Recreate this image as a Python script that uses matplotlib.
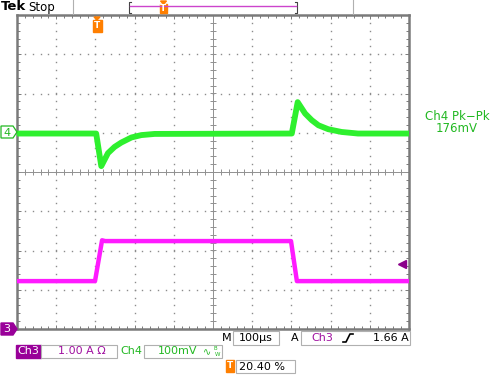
import numpy as np
import matplotlib
matplotlib.use("Agg")
import matplotlib.pyplot as plt
from matplotlib.patches import Rectangle, Polygon

# scope traces, time in us (100 us/div), amplitude in divisions
ch4_t = [0, 202, 215, 232, 249, 266, 292, 317, 351, 701, 716, 735, 752, 769, 794, 828, 870, 1000]
ch4_v = [0.98, 0.98, 0.15, 0.48, 0.64, 0.75, 0.88, 0.94, 0.97, 0.98, 1.78, 1.49, 1.32, 1.19, 1.09, 1.02, 0.98, 0.98]

ch3_t = [0, 199, 217, 225, 699, 714, 1000]
ch3_v = [-2.78, -2.78, -1.74, -1.76, -1.76, -2.78, -2.78]

trig_level = -2.34   # 1.66 A on ch3, ground at -4 div

green = '#2ef02e'
green_txt = '#22b822'
magenta = '#ff1aff'
mag_txt = '#a010a0'
orange = '#ff7f00'
gray = '#7a7a7a'

fig = plt.figure(figsize=(5, 3.75), dpi=100)

# main graticule: x 17..409 px, y 15..329 px
ax = fig.add_axes([17/500, 1-329/375, 392/500, 314/375])
ax.set_xlim(0, 1000)
ax.set_ylim(-4, 4)

# dotted grid
for k in range(1, 10):
    if k == 5:
        continue
    yy = np.arange(-4, 4.01, 0.2)
    ax.plot(np.full_like(yy, k*100), yy, ls='none', marker='s', ms=1.0, color='#8c8c8c', mew=0)
for k in range(-3, 4):
    if k == 0:
        continue
    xx = np.arange(0, 1000.1, 20)
    ax.plot(xx, np.full_like(xx, k), ls='none', marker='s', ms=1.0, color='#8c8c8c', mew=0)

# centre cross with ticks
ax.axhline(0, color='#909090', lw=0.7)
ax.axvline(500, color='#909090', lw=0.7)
xx = np.arange(0, 1000.1, 20)
yy = np.arange(-4, 4.01, 0.2)
ax.plot(xx, np.zeros_like(xx), ls='none', marker='|', ms=4, color='#909090', mew=0.7)
ax.plot(np.full_like(yy, 500), yy, ls='none', marker='_', ms=4, color='#909090', mew=0.7)

ax.set_xticks(np.arange(0, 1001, 100))
ax.set_xticks(np.arange(0, 1001, 20), minor=True)
ax.set_yticks(np.arange(-4, 4.1, 1))
ax.set_yticks(np.arange(-4, 4.1, 0.2), minor=True)
ax.tick_params(which='both', direction='in', top=True, right=True,
               labelbottom=False, labelleft=False, color=gray, width=0.7)
ax.tick_params(which='major', length=3)
ax.tick_params(which='minor', length=2.5)
for s in ax.spines.values():
    s.set_color(gray)
    s.set_linewidth(1.8)

ax.plot(ch4_t, ch4_v, color=green, lw=4.2, solid_joinstyle='round', zorder=5)
ax.plot(ch3_t, ch3_v, color=magenta, lw=3.2, solid_joinstyle='round', zorder=5)
ax.plot([981], [trig_level], marker='<', ms=6, color='#8a008a', clip_on=False, zorder=6)

# overlay in pixel coordinates for the scope annotations
ov = fig.add_axes([0, 0, 1, 1], facecolor='none')
ov.set_xlim(0, 500)
ov.set_ylim(375, 0)
ov.axis('off')

ov.text(1, 7, 'Tek', fontsize=9.5, fontweight='bold', va='center', ha='left')
ov.text(28, 7, 'Stop', fontsize=8.5, va='center', ha='left')
ov.plot([73, 73], [0, 14], color='#b0b0b0', lw=0.8)
ov.plot([353, 353], [0, 14], color='#b0b0b0', lw=0.8)
ov.plot([131, 129, 129, 131], [2, 2, 13, 13], color='#444444', lw=0.8)
ov.plot([295, 297, 297, 295], [2, 2, 13, 13], color='#444444', lw=0.8)
ov.plot([130, 296], [6, 6], color='#cc44cc', lw=1.0)

def tmark(x, y, w, h):
    ov.add_patch(Polygon([[x-3, y-3], [x+3, y-3], [x, y]], closed=True, color=orange))
    ov.add_patch(Rectangle((x-w/2, y), w, h, color=orange))
    ov.text(x, y+h/2, 'T', color='white', fontsize=6.5, fontweight='bold', ha='center', va='center')

tmark(163.5, 4, 7, 9)
tmark(97, 20, 9, 12)

# channel ground markers
ov.add_patch(Polygon([[1, 126], [13, 126], [17, 132], [13, 138], [1, 138]], closed=True,
                     facecolor='white', edgecolor=green_txt, lw=0.9))
ov.text(7, 132.5, '4', color=green_txt, fontsize=8, ha='center', va='center')
ov.add_patch(Polygon([[1, 323], [13, 323], [17, 329], [13, 335], [1, 335]], closed=True,
                     facecolor='#990099', edgecolor='#990099'))
ov.text(7, 329.5, '3', color='white', fontsize=8, ha='center', va='center')

# measurement readout
ov.text(457, 116, 'Ch4 Pk\u2212Pk', color=green_txt, fontsize=8.5, ha='center', va='center')
ov.text(457, 129, '176mV', color=green_txt, fontsize=8.5, ha='center', va='center')

def box(x0, y0, x1, y1):
    ov.add_patch(Rectangle((x0, y0), x1-x0, y1-y0, facecolor='white', edgecolor='#b0b0b0', lw=0.8))

# bottom row 1
ov.text(227, 338, 'M', fontsize=8, ha='center', va='center')
box(233, 331, 279, 345)
ov.text(256, 338, '100\u00b5s', fontsize=8, ha='center', va='center')
ov.text(295, 338, 'A', fontsize=8, ha='center', va='center')
box(301, 331, 410, 345)
ov.text(322, 338, 'Ch3', color=mag_txt, fontsize=8, ha='center', va='center')
ov.plot([343, 346, 350, 353], [342, 342, 334, 334], color='black', lw=1.2)
ov.text(409, 338, '1.66 A', fontsize=8, ha='right', va='center')

# bottom row 2
ov.add_patch(Rectangle((16, 345), 25, 13, color='#990099'))
ov.text(28.5, 351.5, 'Ch3', color='white', fontsize=8, ha='center', va='center')
box(41, 345, 117, 358)
ov.text(82, 351.5, '1.00 A \u03a9', color=mag_txt, fontsize=8, ha='center', va='center')
ov.text(131, 351.5, 'Ch4', color=green_txt, fontsize=8, ha='center', va='center')
box(144, 345, 222, 358)
ov.text(178, 351.5, '100mV', color=green_txt, fontsize=8, ha='center', va='center')
ov.text(207, 352, '\u223f', color=green_txt, fontsize=7, ha='center', va='center')
ov.text(215, 348, 'B', color=green_txt, fontsize=4, ha='center', va='center')
ov.text(218, 354, 'W', color=green_txt, fontsize=4, ha='center', va='center')

# bottom row 3
ov.add_patch(Rectangle((226, 360), 8, 12, color=orange))
ov.text(230, 366, 'T', color='white', fontsize=6.5, fontweight='bold', ha='center', va='center')
box(236, 360, 295, 373)
ov.text(239, 366.5, '20.40 %', fontsize=8, ha='left', va='center')

fig.savefig('out.png', dpi=100)
